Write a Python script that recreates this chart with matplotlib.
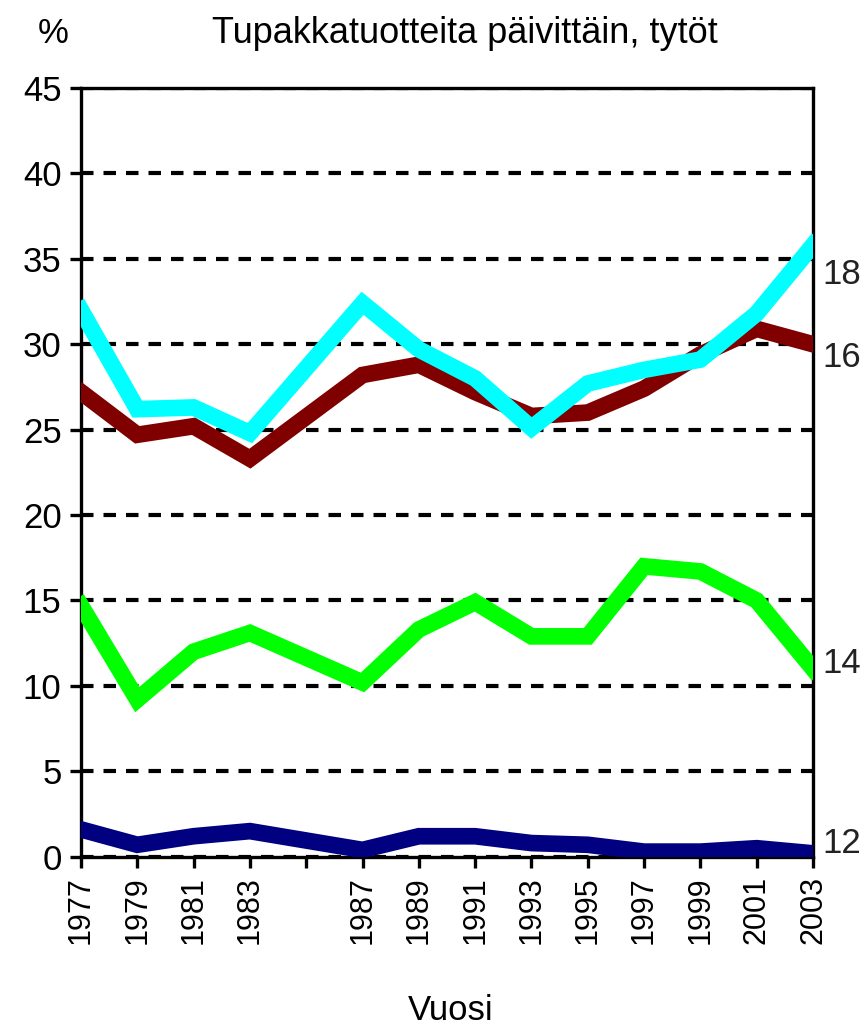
import matplotlib.pyplot as plt
import numpy as np

# vuodet (1985 puuttuu aineistosta)
vuodet = [1977, 1979, 1981, 1983, 1987, 1989, 1991, 1993, 1995, 1997, 1999, 2001, 2003]
ika12 = [1.6, 0.7, 1.2, 1.5, 0.4, 1.2, 1.2, 0.8, 0.7, 0.3, 0.3, 0.5, 0.2]
ika14 = [14.7, 9.2, 12.0, 13.1, 10.2, 13.3, 14.9, 12.9, 12.9, 17.0, 16.7, 15.0, 11.0]
ika16 = [27.2, 24.7, 25.2, 23.3, 28.2, 28.8, 27.2, 25.8, 26.0, 27.4, 29.4, 30.9, 30.0]
ika18 = [32.0, 26.2, 26.3, 24.8, 32.4, 29.7, 28.0, 25.1, 27.7, 28.5, 29.1, 31.8, 35.8]

tick_vuodet = list(range(1977, 2004, 2))
tick_tekstit = [str(v) if v != 1985 else "" for v in tick_vuodet]

fam = ["Liberation Sans Narrow", "Liberation Sans", "DejaVu Sans"]
plt.rcParams["font.family"] = fam

fig = plt.figure(figsize=(8.66, 10.29), dpi=100)
ax = fig.add_axes([0.0935, 0.1674, 0.8453, 0.7471])

lw = 12
ax.plot(vuodet, ika12, color="#000080", lw=lw, solid_joinstyle="miter", zorder=3)
ax.plot(vuodet, ika14, color="#00ff00", lw=lw, solid_joinstyle="miter", zorder=3)
ax.plot(vuodet, ika16, color="#800000", lw=lw, solid_joinstyle="miter", zorder=3)
ax.plot(vuodet, ika18, color="#00ffff", lw=lw, solid_joinstyle="miter", zorder=4)

ax.set_xlim(1977, 2003)
ax.set_ylim(0, 45)
ax.set_yticks(range(0, 46, 5))
ax.set_xticks(tick_vuodet)
ax.set_xticklabels(tick_tekstit, rotation=90)

ax.yaxis.grid(True, color="black", linestyle=(0, (3, 2.4)), linewidth=3, zorder=1)
ax.set_axisbelow(True)

for s in ax.spines.values():
    s.set_linewidth(2.4)
    s.set_color("black")

ax.tick_params(axis="both", direction="out", length=8, width=2.4, colors="black")
ax.tick_params(axis="y", pad=6, labelsize=25)
ax.tick_params(axis="x", pad=6, labelsize=22)

# ikäryhmien tunnisteet oikealla
for y, t in zip([ika18[-1] - 1.7, ika16[-1] - 0.8, ika14[-1] + 0.3, ika12[-1] + 0.6], ["18", "16", "14", "12"]):
    ax.text(1.013, y / 45, t, transform=ax.transAxes, fontsize=25, va="center", ha="left", color="#222222")

fig.text(0.044, 0.967, "%", fontsize=25, ha="left", va="center")
fig.text(0.537, 0.967, "Tupakkatuotteita päivittäin, tytöt", fontsize=26, ha="center", va="center")
fig.text(0.52, 0.018, "Vuosi", fontsize=25, ha="center", va="center")

fig.savefig("out.png", dpi=100)
